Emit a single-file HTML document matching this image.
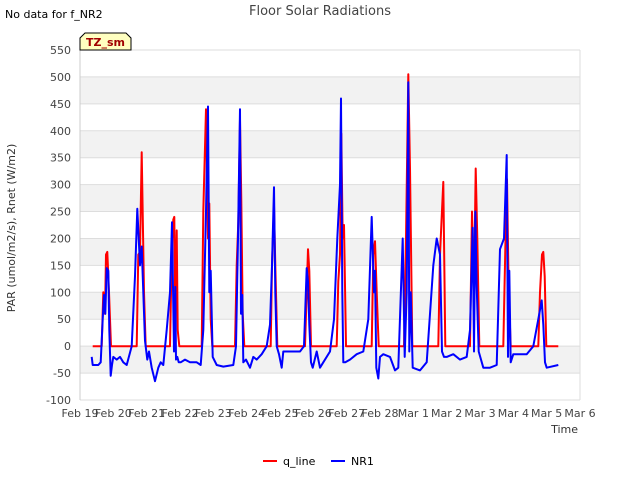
<!DOCTYPE html>
<html><head><meta charset="utf-8"><style>
body{margin:0;background:#fff;font-family:"Liberation Sans",sans-serif;}
svg text{font-family:"DejaVu Sans","Liberation Sans",sans-serif;}
</style></head><body>
<svg id="c" width="640" height="480" xmlns="http://www.w3.org/2000/svg">
<rect width="640" height="480" fill="#fff"/>
<g id="bands"></g><g id="grid"></g>
<text x="320" y="15" text-anchor="middle" font-size="13" fill="#444">Floor Solar Radiations</text>
<text x="5" y="18" font-size="11" fill="#000">No data for f_NR2</text>
<text x="15" y="228" font-size="11" fill="#333" text-anchor="middle" transform="rotate(-90 15 228)">PAR (umol/m2/s), Rnet (W/m2)</text>
<text x="578" y="433" font-size="11" fill="#333" text-anchor="end">Time</text>
<g id="ticks"></g>
<g id="series"></g>
<g>
<path d="M80,50 L80,38 L85,33 L126,33 L131,38 L131,50 Z" fill="#ffffc0" stroke="#000" stroke-width="1"/>
<text x="105.5" y="46" text-anchor="middle" font-size="11" font-weight="bold" fill="#a00000">TZ_sm</text>
</g>
<g>
<line x1="263" y1="461" x2="277" y2="461" stroke="#f00" stroke-width="2"/>
<text x="283" y="465" font-size="11" fill="#000">q_line</text>
<line x1="331" y1="461" x2="345" y2="461" stroke="#00f" stroke-width="2"/>
<text x="351" y="465" font-size="11" fill="#000">NR1</text>
</g>
</svg>
<script>
const yTicks=[-100,-50,0,50,100,150,200,250,300,350,400,450,500,550];
const xTickLabels=["Feb 19","Feb 20","Feb 21","Feb 22","Feb 23","Feb 24","Feb 25","Feb 26","Feb 27","Feb 28","Mar 1","Mar 2","Mar 3","Mar 4","Mar 5","Mar 6"];
const qTimes=[0.38,0.65,0.7,0.75,0.78,0.82,0.87,0.93,1.7,1.75,1.8,1.85,1.92,1.97,2.05,2.7,2.75,2.8,2.83,2.86,2.9,2.93,2.98,3.65,3.7,3.78,3.84,3.88,3.92,3.97,4.65,4.7,4.75,4.8,4.84,4.88,4.93,5.72,5.76,5.82,5.86,5.92,6.75,6.8,6.84,6.88,6.93,7.7,7.75,7.8,7.84,7.88,7.92,7.98,8.75,8.8,8.85,8.9,8.96,9.72,9.78,9.85,9.9,9.97,10.75,10.8,10.85,10.9,10.96,11.7,11.76,11.82,11.87,11.92,11.98,12.7,12.76,12.81,12.86,12.92,13.75,13.8,13.86,13.9,13.94,13.99,14.35];
const qValues=[0,0,100,60,170,175,100,0,0,170,175,360,100,0,0,0,170,235,240,60,215,30,0,0,250,440,200,265,50,0,0,150,230,420,270,60,0,0,150,260,150,0,0,100,180,140,0,0,120,170,395,200,225,0,0,170,195,100,0,0,200,505,330,0,0,170,240,305,0,0,250,100,330,200,0,0,180,310,100,0,0,100,170,175,130,0,0];
const nTimes=[0.35,0.38,0.55,0.62,0.68,0.72,0.76,0.8,0.85,0.88,0.92,0.96,
1.0,1.1,1.2,1.3,1.4,1.55,1.65,1.72,1.8,1.85,1.9,1.95,
2.02,2.07,2.15,2.25,2.35,2.42,2.5,2.6,2.7,2.76,2.82,2.86,2.88,2.92,2.96,
3.02,3.15,3.3,3.5,3.62,3.7,3.78,3.84,3.88,3.92,3.98,
4.1,4.3,4.6,4.68,4.74,4.8,4.83,4.87,4.9,4.98,
5.1,5.2,5.3,5.45,5.6,5.7,5.76,5.82,5.86,5.9,5.97,
6.05,6.1,6.3,6.6,6.72,6.8,6.84,6.88,6.93,6.98,
7.1,7.2,7.3,7.5,7.62,7.72,7.8,7.83,7.87,7.9,7.96,
8.1,8.3,8.5,8.65,8.75,8.82,8.85,8.89,8.95,
9.0,9.1,9.3,9.45,9.55,9.68,9.74,9.8,9.85,9.88,9.92,9.98,
10.2,10.4,10.6,10.7,10.8,10.86,10.92,
11.0,11.2,11.4,11.6,11.7,11.78,11.82,11.86,11.9,11.96,
12.1,12.3,12.5,12.6,12.72,12.8,12.84,12.88,12.92,
13.0,13.2,13.4,13.6,13.75,13.85,13.9,13.95,14.0,14.35];
const nValues=[-20,-35,-35,-30,50,95,60,145,140,30,-55,-35,
-20,-25,-20,-30,-35,0,130,255,150,185,100,10,
-25,-10,-40,-65,-40,-30,-35,30,100,230,-10,110,-25,-20,-30,
-30,-25,-30,-30,-35,30,250,445,100,140,-20,
-35,-38,-35,0,200,440,60,95,-30,-25,
-40,-20,-25,-15,0,40,150,295,100,0,-15,
-40,-10,-10,-10,0,145,120,40,-30,-40,
-10,-40,-30,-10,50,200,300,460,100,-30,-30,
-25,-15,-10,50,240,100,140,-40,-60,
-20,-15,-20,-45,-40,200,-20,100,490,-10,100,-40,
-45,-30,150,200,170,-10,-20,
-20,-15,-25,-20,30,220,-10,250,110,-10,
-40,-40,-35,180,200,355,-20,140,-30,
-15,-15,-15,0,50,85,40,-30,-40,-35];
const X0=80,X1=580,Y0=400,Y1=50;
const xs=t=>X0+t*(X1-X0)/15;
const ys=v=>Y0-(v+100)*(Y0-Y1)/650;
const NS="http://www.w3.org/2000/svg";
function mk(tag,attrs,parent){const e=document.createElementNS(NS,tag);for(const k in attrs)e.setAttribute(k,attrs[k]);parent.appendChild(e);return e;}
const bands=document.getElementById('bands'),grid=document.getElementById('grid'),ticks=document.getElementById('ticks'),series=document.getElementById('series');
[[450,500],[350,400],[250,300],[150,200],[50,100],[-50,0]].forEach(b=>{
 const r=mk('rect',{x:X0,y:ys(b[1]),width:X1-X0,height:ys(b[0])-ys(b[1]),fill:'#f2f2f2'},bands);
 
 
});
yTicks.forEach(v=>{
 const l=mk('line',{x1:X0,x2:X1,y1:ys(v),y2:ys(v),stroke:'#ddd','stroke-width':1},grid);
 
 
 const t=mk('text',{x:X0-9,y:ys(v)+4,'text-anchor':'end','font-size':11,fill:'#444'},ticks);
 t.textContent=v;
 
 
});
const vl=mk('line',{x1:X0,x2:X0,y1:Y1,y2:Y0,stroke:'#ccc'},grid);


const vr=mk('line',{x1:X1,x2:X1,y1:Y1,y2:Y0,stroke:'#ddd'},grid);


xTickLabels.forEach((s,i)=>{
 const t=mk('text',{x:xs(i),y:Y0+17,'text-anchor':'middle','font-size':11,fill:'#444'},ticks);
 t.textContent=s;
 
 
});
function path(times,vals,color,name){
 const d=times.map((t,i)=>(i?'L':'M')+xs(t).toFixed(1)+','+ys(vals[i]).toFixed(1)).join('');
 const p=mk('path',{d:d,fill:'none',stroke:color,'stroke-width':2,'stroke-linejoin':'round'},series);
 
 
}
path(qTimes,qValues,'#f00','q-line-series');
path(nTimes,nValues,'#00f','nr1-series');
</script>
</body></html>
